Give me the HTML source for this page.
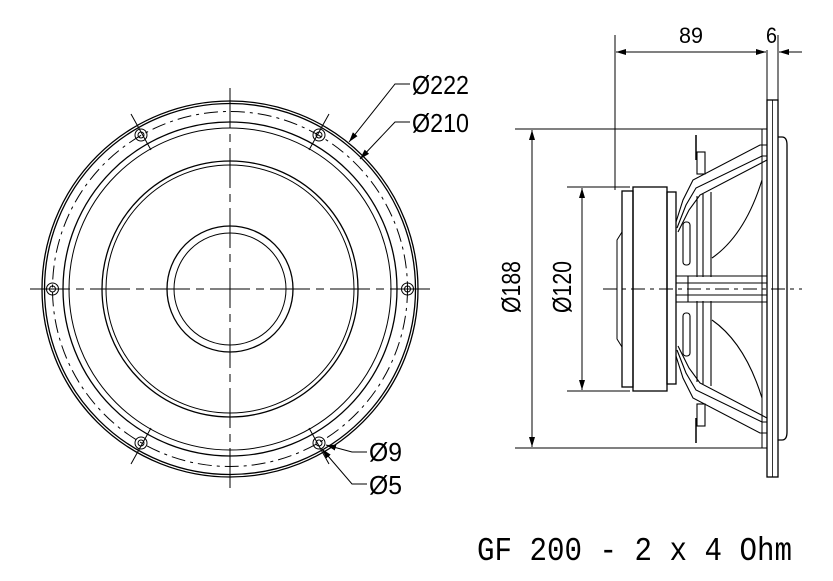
<!DOCTYPE html>
<html><head><meta charset="utf-8"><style>
html,body{margin:0;padding:0;background:#fff;}
svg{display:block;}
text{font-family:"Liberation Sans",sans-serif;fill:#000;}
</style></head><body>
<svg width="833" height="581" viewBox="0 0 833 581" xmlns="http://www.w3.org/2000/svg">
<defs>
<marker id="a" viewBox="0 0 10 6" refX="10" refY="3" markerWidth="10" markerHeight="6" orient="auto" markerUnits="userSpaceOnUse"><path d="M0,0 L10,3 L0,6 z" fill="#000"/></marker>
</defs>
<g fill="none" stroke="#000" stroke-width="1.3">
<circle cx="230" cy="289" r="188"/>
<circle cx="230" cy="289" r="185.5"/>
<circle cx="230" cy="289" r="177.5" stroke-dasharray="14,5,3,5" stroke-width="1"/>
<circle cx="230" cy="289" r="167"/>
<circle cx="230" cy="289" r="161" stroke-width="1"/>
<circle cx="230" cy="289" r="128"/>
<circle cx="230" cy="289" r="124" stroke-width="1"/>
<circle cx="230" cy="289" r="63"/>
<circle cx="230" cy="289" r="56" stroke-width="1"/>
<g stroke-width="1">
<line x1="30" y1="289" x2="430" y2="289" stroke-dasharray="40,6,8,6"/>
<line x1="230" y1="88" x2="230" y2="492" stroke-dasharray="40,6,8,6"/>
<line x1="131" y1="114" x2="151" y2="150"/><line x1="329" y1="114" x2="309" y2="150"/>
<line x1="131" y1="464" x2="151" y2="428"/><line x1="329" y1="464" x2="309" y2="428"/>
</g>
<g stroke-width="1">
<circle cx="52.5" cy="289" r="6"/><circle cx="52.5" cy="289" r="3"/>
<circle cx="407.5" cy="289" r="6"/><circle cx="407.5" cy="289" r="3"/>
<circle cx="141" cy="135" r="6"/><circle cx="141" cy="135" r="3"/>
<circle cx="319" cy="135" r="6"/><circle cx="319" cy="135" r="3"/>
<circle cx="141" cy="443" r="6"/><circle cx="141" cy="443" r="3"/>
<circle cx="319" cy="443" r="6"/><circle cx="319" cy="443" r="3"/>
</g>
<g stroke-width="1">
<polyline points="410,84 395,84 349,142" marker-end="url(#a)"/>
<polyline points="410,122 395,122 360,159" marker-end="url(#a)"/>
<polyline points="367,452 352,452 326,445" marker-end="url(#a)"/>
<polyline points="367,484 352,484 322,449" marker-end="url(#a)"/>
</g>
<rect x="767" y="100" width="11" height="377"/>
<line x1="772.5" y1="100" x2="772.5" y2="477" stroke-width="0.8"/>
<path d="M778,137 L782,137 Q787,137 787,145 L787,432 Q787,440 782,440 L778,440"/>
<rect x="762" y="129" width="5" height="319" stroke-width="1"/>
<rect x="633" y="187" width="34" height="204"/>
<rect x="622" y="191" width="11" height="196"/>
<rect x="667" y="192" width="9" height="192"/>
<path d="M622,232 L617,240 L617,339 L622,347" stroke-width="1"/>
<g stroke-width="1.1">
<polyline points="676,222 683,200 693,180 760,145 767,145"/>
<polyline points="677,228 686,205 696,188 762,156 767,156"/>
<polyline points="678,232 689,210 700,195 767,160"/>
<polyline points="676,356 683,378 693,398 760,433 767,433"/>
<polyline points="677,350 686,373 696,390 762,422 767,422"/>
<polyline points="678,346 689,368 700,383 767,418"/>
<line x1="697" y1="196" x2="697" y2="277"/><line x1="703" y1="194" x2="703" y2="277"/><line x1="711" y1="192" x2="711" y2="277"/>
<line x1="697" y1="301" x2="697" y2="382"/><line x1="703" y1="301" x2="703" y2="384"/><line x1="711" y1="301" x2="711" y2="386"/>
<path d="M762,180 Q745,235 712,258"/>
<path d="M762,398 Q745,343 712,320"/>
<line x1="676" y1="276" x2="767" y2="276"/><line x1="676" y1="283" x2="767" y2="283"/>
<line x1="676" y1="302" x2="767" y2="302"/><line x1="676" y1="295" x2="767" y2="295"/>
<line x1="688" y1="276" x2="688" y2="302"/>
<rect x="683" y="222" width="7" height="43" rx="3"/>
<rect x="683" y="313" width="7" height="43" rx="3"/>
<rect x="697" y="152" width="8" height="22"/><line x1="696" y1="135" x2="696" y2="160" stroke-width="1.5"/>
<rect x="697" y="404" width="8" height="22"/><line x1="696" y1="418" x2="696" y2="443" stroke-width="1.5"/>
</g>
<g stroke-width="1">
<line x1="603" y1="289" x2="802" y2="289" stroke-dasharray="14,5,4,5"/>
<line x1="615" y1="35" x2="615" y2="190"/>
<line x1="778" y1="35" x2="778" y2="100"/>
<line x1="767" y1="50" x2="767" y2="100"/>
<line x1="640" y1="52" x2="616" y2="52" marker-end="url(#a)"/>
<line x1="640" y1="52" x2="740" y2="52"/>
<line x1="740" y1="52" x2="766" y2="52" marker-end="url(#a)"/>
<line x1="802" y1="52" x2="779" y2="52" marker-end="url(#a)"/>
<line x1="515" y1="129" x2="762" y2="129"/>
<line x1="515" y1="448" x2="762" y2="448"/>
<line x1="532" y1="160" x2="532" y2="130" marker-end="url(#a)"/>
<line x1="532" y1="160" x2="532" y2="418"/>
<line x1="532" y1="418" x2="532" y2="447" marker-end="url(#a)"/>
<line x1="567" y1="187" x2="630" y2="187"/>
<line x1="567" y1="391" x2="630" y2="391"/>
<line x1="582" y1="215" x2="582" y2="188" marker-end="url(#a)"/>
<line x1="582" y1="215" x2="582" y2="363"/>
<line x1="582" y1="363" x2="582" y2="390" marker-end="url(#a)"/>
</g>
</g>
<g font-size="26">
<text x="412" y="94" textLength="57" lengthAdjust="spacingAndGlyphs">Ø222</text>
<text x="412" y="132" textLength="57" lengthAdjust="spacingAndGlyphs">Ø210</text>
<text x="369" y="461" textLength="33" lengthAdjust="spacingAndGlyphs">Ø9</text>
<text x="369" y="494" textLength="33" lengthAdjust="spacingAndGlyphs">Ø5</text>
<text x="679" y="43" font-size="22" textLength="24" lengthAdjust="spacingAndGlyphs">89</text>
<text x="766" y="43" font-size="22" textLength="11" lengthAdjust="spacingAndGlyphs">6</text>
<text transform="translate(520,287) rotate(-90)" x="-26" textLength="52" lengthAdjust="spacingAndGlyphs">Ø188</text>
<text transform="translate(571,287) rotate(-90)" x="-26" textLength="52" lengthAdjust="spacingAndGlyphs">Ø120</text>
</g>
<text x="477" y="560" font-size="33" textLength="315" lengthAdjust="spacingAndGlyphs" style="font-family:'Liberation Mono',monospace">GF 200 - 2 x 4 Ohm</text>
</svg>
</body></html>
